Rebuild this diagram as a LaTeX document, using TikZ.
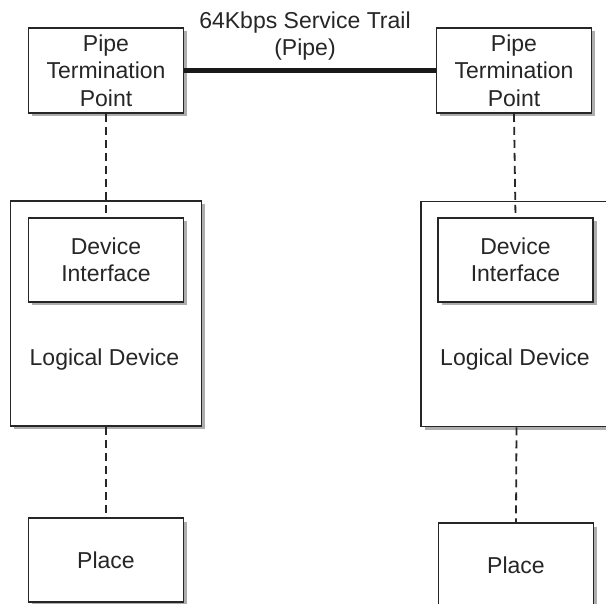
\documentclass[tikz,border=0pt]{standalone}
\usepackage{fontspec}
\setmainfont{Liberation Sans}
\usepackage{tikz}
\usetikzlibrary{positioning, shadows}

\begin{document}
\begin{tikzpicture}[x=1pt, y=-1pt,
		box/.style={draw=black!85, line width=1.7pt, fill=white, inner sep=0pt, align=center,
			drop shadow={shadow xshift=3.5pt, shadow yshift=-3.5pt, fill=black!40, opacity=0.8}},
		pipebox/.style={box, minimum width=155pt, minimum height=85pt},
		ifbox/.style={box, minimum width=155pt, minimum height=84pt},
		devbox/.style={box, minimum width=191pt, minimum height=225pt},
		lbl/.style={align=center, text=black!85, font=\fontsize{23}{27.5}\selectfont},
		trail/.style={line width=4.3pt, black!90},
		link/.style={line width=1.8pt, black!85, dash pattern=on 8pt off 5pt}]
			\useasboundingbox (0,0) rectangle (606,604);
			\clip (0,0) rectangle (606,604);

			\node[pipebox, lbl] (ptpL) at (106,70.5) {Pipe\\Termination\\Point};
			\node[pipebox, lbl] (ptpR) at (514,70.5) {Pipe\\Termination\\Point};
			\node[lbl] (trailLabel) at (305,36) {64Kbps Service Trail\\(Pipe)};

			\node[devbox] (ldL) at (106,313.5) {};
			\node[ifbox, lbl] (diL) at (106,260) {Device\\Interface};
			\node[lbl] (ldLabelL) at (104.5,360) {Logical Device};

			\node[devbox] (ldR) at (516.5,314) {};
			\node[ifbox, lbl] (diR) at (515.5,260) {Device\\Interface};
			\node[lbl] (ldLabelR) at (515,360) {Logical Device};

			\node[ifbox, lbl] (placeL) at (106,560) {Place};
			\node[ifbox, lbl] (placeR) at (516,565) {Place};

			\draw[trail] (ptpL.east) -- (ptpR.west);

			\draw[link] (ptpL.south) -- (diL.north);
			\draw[link] (ptpR.south) -- (diR.north);
			\draw[link] (ldL.south) -- (placeL.north);
			\draw[link] (ldR.south) -- (placeR.north);

		\end{tikzpicture}
\end{document}
